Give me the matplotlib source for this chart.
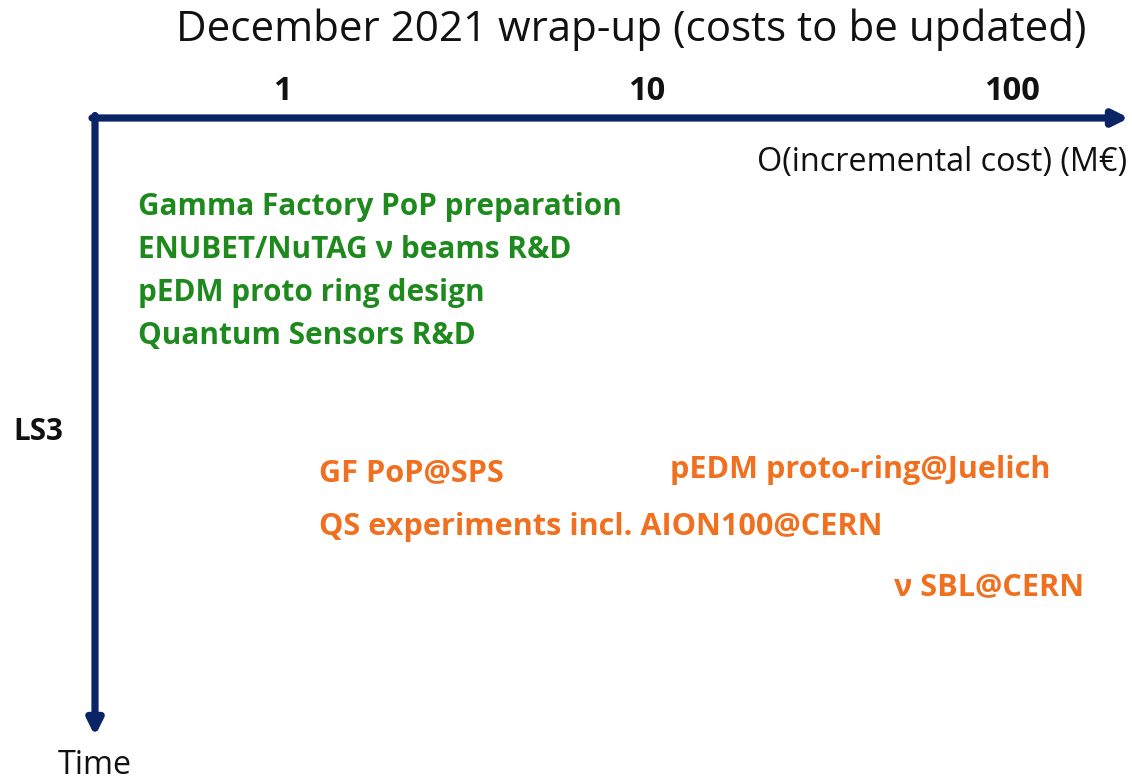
import matplotlib
matplotlib.use("Agg")
import matplotlib.pyplot as plt

# ---- data ----
title = "December 2021 wrap-up (costs to be updated)"
cost_ticks = [1, 10, 100]
cost_tick_labels = ["1", "10", "100"]
x_label = "O(incremental cost) (M\u20ac)"
y_label = "Time"
milestone_label = "LS3"
milestone_time = 432

green_labels = ["Gamma Factory PoP preparation",
                "ENUBET/NuTAG \u03bd beams R&D",
                "pEDM proto ring design",
                "Quantum Sensors R&D"]
green_cost = [0.404, 0.404, 0.404, 0.404]
green_time = [207, 250, 293, 336]

orange_labels = ["GF PoP@SPS",
                 "pEDM proto-ring@Juelich",
                 "QS experiments incl. AION100@CERN",
                 "\u03bd SBL@CERN"]
orange_cost = [1.26, 11.55, 1.26, 47.5]
orange_time = [473, 470, 527, 587]

# ---- style ----
NAVY = "#0b2466"
GREEN = "#1e8a1e"
ORANGE = "#f07020"
FONT = ["Open Sans", "DejaVu Sans"]

W, H = 1132, 782
fig = plt.figure(figsize=(W / 100, H / 100), dpi=100)
ax = fig.add_axes([0, 0, 1, 1])
ax.set_xscale("log")
px_per_dec = 365.0
x_one = 282.0
xmin = 10 ** (-x_one / px_per_dec)
xmax = 10 ** ((W - x_one) / px_per_dec)
ax.set_xlim(xmin, xmax)
ax.set_ylim(H, 0)
ax.axis("off")

def cost_at(px):
    return 10 ** ((px - x_one) / px_per_dec)

axis_y = 118
axis_x_cost = cost_at(95)

# horizontal axis arrow
ax.annotate("", xy=(cost_at(1129), axis_y), xytext=(cost_at(92), axis_y),
            arrowprops=dict(arrowstyle="-|>,head_length=0.9,head_width=0.45",
                            color=NAVY, lw=5.2, shrinkA=0, shrinkB=0))
# vertical axis arrow
ax.annotate("", xy=(axis_x_cost, 736), xytext=(axis_x_cost, axis_y - 2.5),
            arrowprops=dict(arrowstyle="-|>,head_length=0.9,head_width=0.45",
                            color=NAVY, lw=5.2, shrinkA=0, shrinkB=0))

# title
ax.text(cost_at(631), 30, title, ha="center", va="center",
        fontsize=30.3, family=FONT, color="#111111")

# ticks
for c, lab in zip(cost_ticks, cost_tick_labels):
    ax.text(c, 92, lab, ha="center", va="center", fontsize=23.5,
            fontweight="bold", family=FONT, color="#111111")

ax.text(cost_at(1127), 162, x_label, ha="right", va="center",
        fontsize=23.3, family=FONT, color="#111111")
ax.text(axis_x_cost, 765, y_label, ha="center", va="center",
        fontsize=23.3, family=FONT, color="#111111")
ax.text(cost_at(13), milestone_time, milestone_label, ha="left", va="center",
        fontsize=21.3, fontweight="bold", family=FONT, color="#111111")

for lab, c, t in zip(green_labels, green_cost, green_time):
    ax.text(c, t, lab, ha="left", va="center", fontsize=21.4,
            fontweight="bold", family=FONT, color=GREEN)

for lab, c, t in zip(orange_labels, orange_cost, orange_time):
    ax.text(c, t, lab, ha="left", va="center", fontsize=22.1,
            fontweight="bold", family=FONT, color=ORANGE)

fig.savefig("out.png", dpi=100, facecolor="white")
